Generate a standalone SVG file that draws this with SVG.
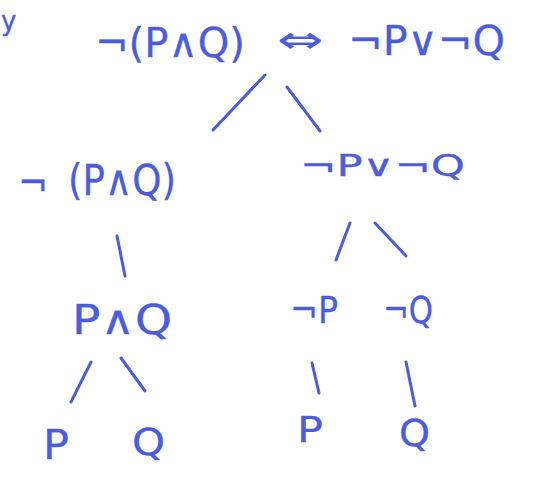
<svg xmlns="http://www.w3.org/2000/svg" width="539" height="477" viewBox="0 0 539 477">
<style>
text{font-family:"DejaVu Sans",sans-serif;fill:#4b5ddb;stroke:#4b5ddb;stroke-width:0.3}
.e line{stroke:#4b5ddb;stroke-width:3;stroke-linecap:round}
</style>
<rect width="539" height="477" fill="#fff"/>
<text x="1" y="30" font-size="26">y</text>
<g id="root">
<text x="95" y="57" font-size="40" textLength="150" lengthAdjust="spacingAndGlyphs">¬(P∧Q)</text>
<text x="277" y="52" font-size="36" textLength="46" lengthAdjust="spacingAndGlyphs">⇔</text>
<text x="348" y="55" font-size="40" textLength="157" lengthAdjust="spacingAndGlyphs">¬P∨¬Q</text>
</g>
<g id="left">
<text x="18" y="197" font-size="40" textLength="30" lengthAdjust="spacingAndGlyphs">¬</text>
<text x="68" y="195" font-size="42" textLength="108" lengthAdjust="spacingAndGlyphs">(P∧Q)</text>
</g>
<g id="right">
<text x="300" y="176" font-size="30" textLength="165" lengthAdjust="spacingAndGlyphs">¬P∨¬Q</text>
</g>
<g id="pandq">
<text x="72" y="334" font-size="40" textLength="100" lengthAdjust="spacingAndGlyphs">P∧Q</text>
</g>
<g id="notp">
<text x="290" y="323" font-size="38" textLength="48" lengthAdjust="spacingAndGlyphs">¬P</text>
</g>
<g id="notq">
<text x="383" y="323" font-size="38" textLength="50" lengthAdjust="spacingAndGlyphs">¬Q</text>
</g>
<g id="p1"><text x="43" y="459" font-size="40" textLength="26" lengthAdjust="spacingAndGlyphs">P</text></g>
<g id="q1"><text x="132" y="455" font-size="38" textLength="33" lengthAdjust="spacingAndGlyphs">Q</text></g>
<g id="p2"><text x="297" y="442" font-size="36" textLength="26" lengthAdjust="spacingAndGlyphs">P</text></g>
<g id="q2"><text x="399" y="446" font-size="38" textLength="31" lengthAdjust="spacingAndGlyphs">Q</text></g>
<g class="e" id="edges">
<line x1="265" y1="75" x2="213" y2="130"/>
<line x1="287" y1="87" x2="320" y2="131"/>
<line x1="117" y1="236" x2="125" y2="276"/>
<line x1="350" y1="223" x2="336" y2="260"/>
<line x1="375" y1="223" x2="406" y2="256"/>
<line x1="91" y1="362" x2="71" y2="402"/>
<line x1="121" y1="358" x2="145" y2="391"/>
<line x1="312" y1="363" x2="319" y2="393"/>
<line x1="406" y1="362" x2="415" y2="406"/>
</g>
</svg>
